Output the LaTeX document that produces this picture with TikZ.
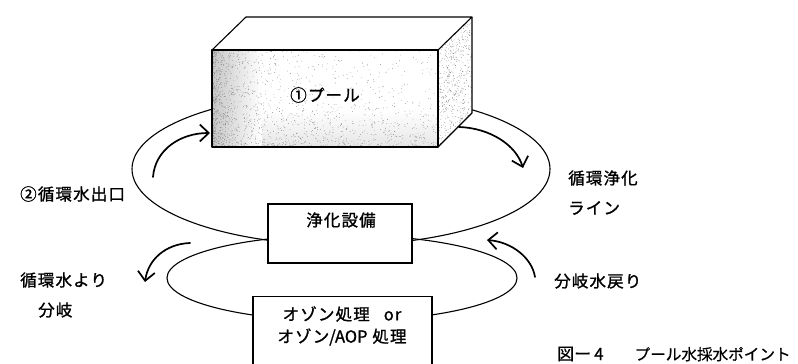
\documentclass[tikz,border=0pt]{standalone}
\usepackage{fontspec}
\setmainfont{Noto Sans CJK JP}
\newfontfamily\jpsp[LetterSpace=7,FakeBold=1.2]{Noto Sans CJK JP}
\newfontfamily\jplat[FakeBold=1.2]{Noto Sans CJK JP}
\newfontfamily\jpcap[FakeBold=0.6]{Noto Sans CJK JP}
\usetikzlibrary{arrows.meta}

\begin{document}
\begin{tikzpicture}[x=1pt,y=-1pt,
  loopline/.style={line width=1.1pt},
  flowarrow/.style={line width=1.7pt, line cap=round,
    -{Straight Barb[length=9pt,width=17pt]}},
  edge/.style={line width=1.1pt, line join=round},
  unitbox/.style={draw, line width=1.1pt, fill=white, inner sep=0pt},
  lbl/.style={font=\jpsp\fontsize{16.5}{19}\selectfont, inner sep=0pt},
  caption/.style={font=\jpcap\fontsize{15.6}{19}\selectfont, inner sep=0pt},
  grain/.style={fill=black!55},
]
\useasboundingbox (0,0) rectangle (798,364);
\clip (0,0) rectangle (798,364);

% circulation loop and branch loop (drawn first, equipment sits on top)
\coordinate (mainloop) at (341,169);
\draw[loopline] (mainloop) ellipse [x radius=209pt, y radius=76pt];
\coordinate (branchloop) at (342,278);
\draw[loopline] (branchloop) ellipse [x radius=175pt, y radius=43pt];

% pool block: front, top and right faces
\coordinate (fTL) at (212,50);
\coordinate (fTR) at (438,50);
\coordinate (fBR) at (438,147);
\coordinate (fBL) at (212,147);
\coordinate (bTL) at (246,17);
\coordinate (bTR) at (472,17);
\coordinate (bBR) at (472,113);
\fill[white] (fTL) -- (bTL) -- (bTR) -- (bBR) -- (fBR) -- (fBL) -- cycle;
\shade[left color=black!22, right color=white] (212,50) rectangle (262,147);
\shade[top color=white, bottom color=black!10] (262,110) rectangle (438,147);

% stipple texture on the sides of the block
\pgfmathsetseed{7}
\foreach \i in {1,...,1300}{
  \pgfmathsetmacro\ra{rnd}
  \pgfmathsetmacro\px{212+226*\ra^3}
  \pgfmathsetmacro\py{50+97*rnd}
  \fill[grain] (\px,\py) circle[radius=0.35pt];
}
\foreach \i in {1,...,500}{
  \pgfmathsetmacro\ra{rnd}
  \pgfmathsetmacro\px{212+226*rnd}
  \pgfmathsetmacro\py{147-45*\ra^2}
  \fill[grain] (\px,\py) circle[radius=0.35pt];
}
\foreach \i in {1,...,500}{
  \pgfmathsetmacro\ra{rnd}
  \pgfmathsetmacro\rb{rnd}
  \pgfmathsetmacro\px{438+34*\ra}
  \pgfmathsetmacro\py{50-33*\ra+97*\rb}
  \fill[grain] (\px,\py) circle[radius=0.35pt];
}
\draw[edge] (fTL) rectangle (fBR);
\draw[edge] (fTL) -- (bTL) -- (bTR) -- (fTR);
\draw[edge] (bTR) -- (bBR) -- (fBR);
\node[lbl] (pool) at (325,95) {①プール};

% purification plant and ozone treatment unit
\node[unitbox, minimum width=144pt, minimum height=59pt] (plant) at (340,233.5) {};
\node[lbl] (plantname) at (341,220) {浄化設備};
\node[unitbox, minimum width=179pt, minimum height=90pt, anchor=north] (ozone) at (342.5,296) {};
\node[lbl] (ozone1) at (342,314) {オゾン処理\hspace{14pt}or};
\node[lbl] (ozone2) at (342,337) {オゾン{\jplat /AOP} 処理};

% flow direction arrows
\coordinate (a1s) at (153,177);
\coordinate (a1e) at (210,133);
\draw[flowarrow] (a1s) .. controls (155,150) and (180,133) .. (a1e);
\coordinate (a2s) at (459,127);
\coordinate (a2e) at (523,168);
\draw[flowarrow] (a2s) .. controls (490,128) and (516,145) .. (a2e);
\coordinate (a3s) at (190,243);
\coordinate (a3e) at (145,282);
\draw[flowarrow] (a3s) .. controls (165,244) and (148,260) .. (a3e);
\coordinate (a4s) at (535,277);
\coordinate (a4e) at (487,240);
\draw[flowarrow] (a4s) .. controls (532,258) and (512,242) .. (a4e);

% labels
\node[lbl, anchor=west] (outlet) at (20,194) {②循環水出口};
\node[lbl, anchor=west] (branch1) at (20,280) {循環水より};
\node[lbl, anchor=west] (branch2) at (38,310) {分岐};
\node[lbl, anchor=west] (line1) at (568,178) {循環浄化};
\node[lbl, anchor=west] (line2) at (568,208) {ライン};
\node[lbl, anchor=west] (return) at (554,281) {分岐水戻り};
\node[caption, anchor=west] (title) at (557,354)
  {{\fontsize{17}{19}\selectfont 図ー\hspace{3pt}4}\hspace{31pt}プール水採水ポイント};
\end{tikzpicture}
\end{document}
